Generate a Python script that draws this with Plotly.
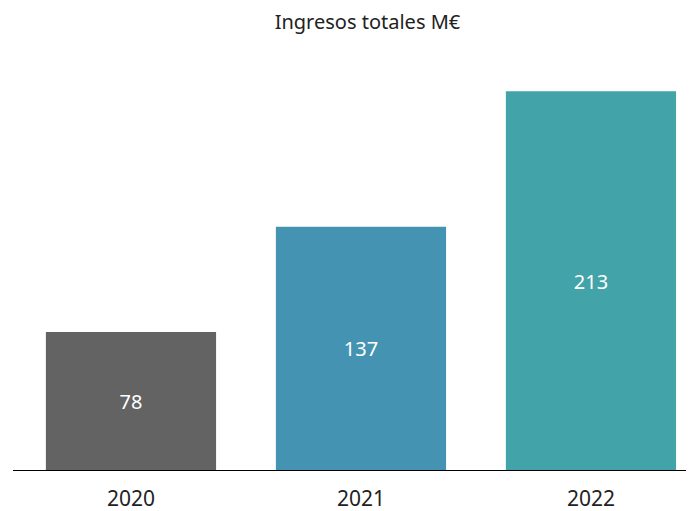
import plotly.graph_objects as go

years = ["2020", "2021", "2022"]
values = [78, 137, 213]
colors = ["#636363", "#4493b2", "#42a3a9"]
title = "Ingresos totales M€"

fig = go.Figure()
fig.add_trace(go.Bar(
    x=years, y=values,
    marker=dict(color=colors, line=dict(width=0)),
    text=[str(v) for v in values],
    textposition="inside",
    insidetextanchor="middle",
    textfont=dict(color="white", size=20, family="Noto Sans"),
    hoverinfo="skip",
))
fig.update_layout(
    width=686, height=503,
    margin=dict(l=5, r=0, t=35, b=40, autoexpand=False),
    paper_bgcolor="white", plot_bgcolor="white",
    bargap=0.26,
    showlegend=False,
    font=dict(family="Noto Sans", color="#222222"),
    title=dict(text=title, x=0.524, xanchor="center", y=0.972, yanchor="middle",
               font=dict(size=20, color="#222222", family="Noto Sans")),
    xaxis=dict(range=[-0.513, 2.448], showgrid=False, zeroline=False,
               showline=False, ticks="outside", ticklen=9, automargin=False,
               tickcolor="rgba(0,0,0,0)",
               tickfont=dict(size=21, color="#222222")),
    yaxis=dict(range=[0, 240], visible=False, automargin=False),
)
fig.add_shape(type="line", xref="paper", yref="y", x0=0, x1=1, y0=0, y1=0,
              line=dict(color="black", width=2))
fig.write_html("out.html")
